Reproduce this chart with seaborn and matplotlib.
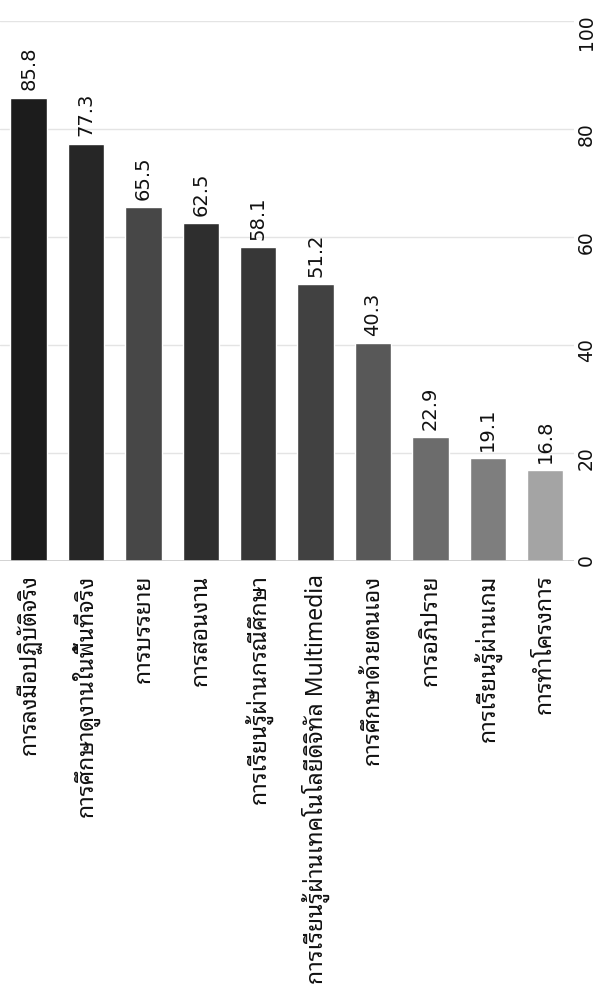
import matplotlib
matplotlib.use("Agg")
import matplotlib.pyplot as plt
import pandas as pd
import seaborn as sns

methods = [
    "การลงมือปฏิบัติจริง",
    "การศึกษาดูงานในพื้นที่จริง",
    "การบรรยาย",
    "การสอนงาน",
    "การเรียนรู้ผ่านกรณีศึกษา",
    "การเรียนรู้ผ่านเทคโนโลยีดิจิทัล Multimedia",
    "การศึกษาด้วยตนเอง",
    "การอภิปราย",
    "การเรียนรู้ผ่านเกม",
    "การทำโครงการ",
]
percent = [85.8, 77.3, 65.5, 62.5, 58.1, 51.2, 40.3, 22.9, 19.1, 16.8]
bar_colors = ["#1c1c1c", "#262626", "#474747", "#2e2e2e", "#373737",
              "#414141", "#585858", "#6c6c6c", "#7e7e7e", "#a4a4a4"]
value_ticks = [0, 20, 40, 60, 80, 100]

df = pd.DataFrame({"method": methods, "percent": percent})

sns.set_style("white")
plt.rcParams["font.family"] = ["Noto Sans Thai Looped", "Noto Sans", "DejaVu Sans"]

fig = plt.figure(figsize=(5.94, 10.03), dpi=100)
ax = fig.add_axes([0.0, 0.4397, 0.966, 0.5384])

sns.barplot(data=df, x="method", y="percent", hue="method", palette=bar_colors,
            legend=False, width=0.635, saturation=1, ax=ax, zorder=2)

for c in ax.containers:
    ax.bar_label(c, fmt="%.1f", padding=6, rotation=90, fontsize=14,
                 family="DejaVu Sans", color="#111111")

ax.set_ylim(0, 100)
ax.set_xlim(-0.5, 9.5)
ax.set_yticks(value_ticks)
ax.yaxis.tick_right()
ax.yaxis.grid(True, color="#e4e4e4", lw=1, zorder=0)
ax.axhline(0, color="#cccccc", lw=1.2, zorder=3)
for lab in ax.get_yticklabels():
    lab.set_family("DejaVu Sans")
ax.tick_params(axis="y", labelrotation=90, length=0, pad=2, labelsize=13.5,
               labelcolor="#111111")
ax.tick_params(axis="x", labelrotation=90, length=0, pad=9, labelsize=16.5,
               labelcolor="#111111")
ax.set(xlabel="", ylabel="")
sns.despine(ax=ax, left=True, bottom=True)

fig.savefig("out.png", dpi=100)
